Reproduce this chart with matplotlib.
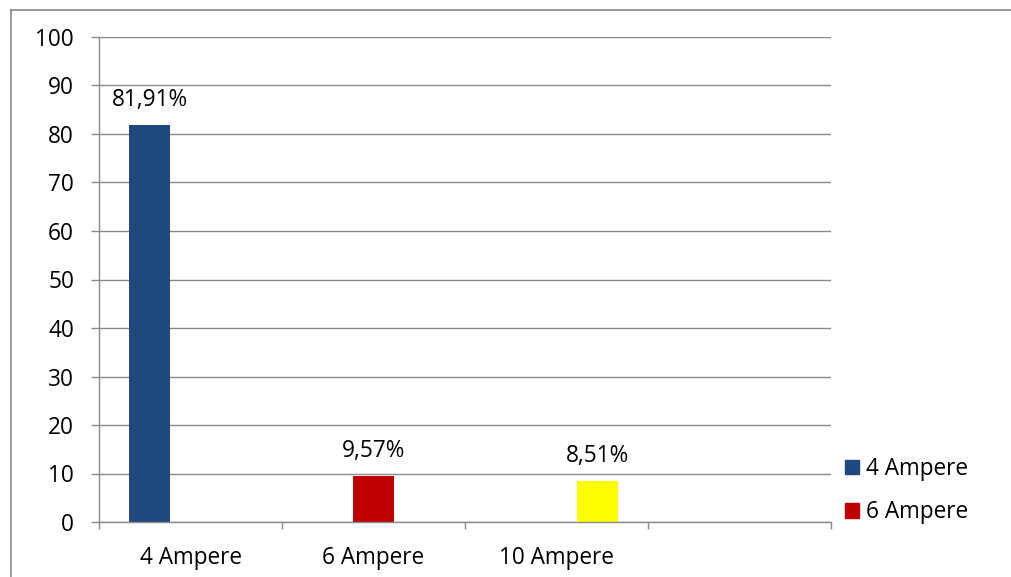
import matplotlib
matplotlib.use('Agg')
import matplotlib.pyplot as plt
from matplotlib.lines import Line2D
from matplotlib.patches import Patch

# data
categories = ["4 Ampere", "6 Ampere", "10 Ampere"]
values = [81.91, 9.57, 8.51]
labels = ["81,91%", "9,57%", "8,51%"]
colors = ["#1F497D", "#C00000", "#FFFF00"]
n_slots = 4
yticks = [0, 10, 20, 30, 40, 50, 60, 70, 80, 90, 100]

plt.rcParams['font.family'] = ['Open Sans', 'DejaVu Sans']
grey = "#8a8a8a"
fs = 16.3

fig = plt.figure(figsize=(10.11, 5.77), dpi=100)
W, H = 1011, 577
# axes box in pixel coords: x 99..831, y 37..522
ax = fig.add_axes([99 / W, 1 - 522 / H, (831 - 99) / W, (522 - 37) / H])

bw = 0.224
for i, (v, c, lab) in enumerate(zip(values, colors, labels)):
    x = i + 0.5 + (i - 1) * bw
    ax.bar(x, v, width=bw, color=c, zorder=3)
    ax.annotate(lab, (x, v), xytext=(0, 13.5), textcoords='offset points',
                ha='center', va='baseline', fontsize=fs, color='black')

ax.set_xlim(0, n_slots)
ax.set_ylim(0, 100)
ax.set_yticks(yticks)
ax.tick_params(axis='y', length=6, width=1, color=grey, pad=12, labelsize=fs)

ax.set_xticks(range(n_slots + 1))
ax.set_xticklabels([])
ax.set_xticks([i + 0.5 for i in range(len(categories))], minor=True)
ax.set_xticklabels(categories, minor=True, fontsize=fs)
ax.tick_params(axis='x', which='major', length=5, width=1, color=grey)
ax.tick_params(axis='x', which='minor', length=0, pad=17)

ax.grid(axis='y', color=grey, linewidth=1, zorder=0)
for s in ['top', 'right']:
    ax.spines[s].set_visible(False)
for s in ['left', 'bottom']:
    ax.spines[s].set_color(grey)
    ax.spines[s].set_linewidth(1)
    ax.spines[s].set_zorder(4)

handles = [Patch(color=colors[0], label=categories[0]),
           Patch(color=colors[1], label=categories[1])]
fig.legend(handles=handles, loc='upper left', bbox_to_anchor=(845 / W, 1 - 457 / H),
           frameon=False, fontsize=fs, handlelength=0.62, handleheight=0.62,
           handletextpad=0.3, labelspacing=0.85, borderaxespad=0, borderpad=0)

# chart frame (cropped on right and bottom)
fig.add_artist(Line2D([10.5 / W, 10.5 / W], [0, 1 - 9.5 / H], color=grey, linewidth=1.2,
                      transform=fig.transFigure))
fig.add_artist(Line2D([10.5 / W, 1], [1 - 9.5 / H, 1 - 9.5 / H], color=grey, linewidth=1.2,
                      transform=fig.transFigure))

fig.savefig("out.png", dpi=100)
